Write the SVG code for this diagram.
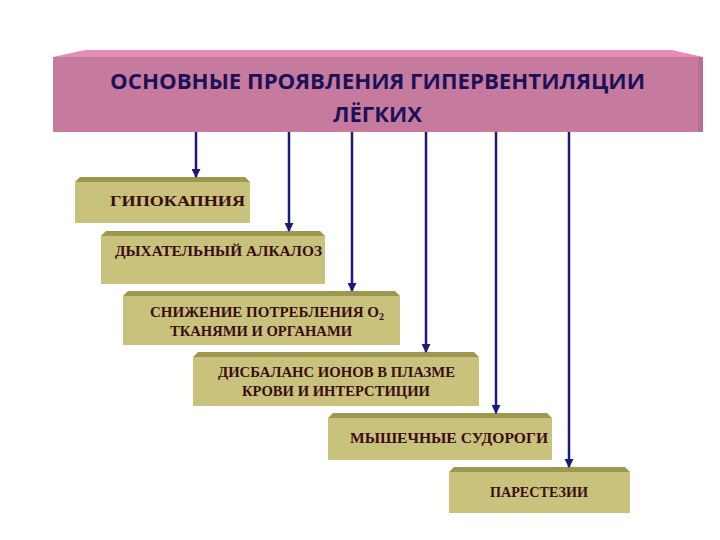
<svg xmlns="http://www.w3.org/2000/svg" width="720" height="540" viewBox="0 0 720 540">
<defs>
<style>
.box{fill:#C8C27C;}
.bev{fill:#9C984F;}
.lbl{font-family:"Liberation Serif","Times New Roman",serif;font-weight:bold;font-size:15px;fill:#3B0C12;}
.ttl{font-family:"Open Sans","Liberation Sans",sans-serif;font-weight:bold;font-size:22px;fill:#1B1157;}
.con{stroke:#1A1A7A;stroke-width:2.5;fill:none;marker-end:url(#ah);}
</style>
<marker id="ah" markerWidth="9" markerHeight="9" refX="8" refY="4.5" orient="auto" markerUnits="userSpaceOnUse">
<path d="M0,0 L9,4.5 L0,9 Z" fill="#1A1A7A"/>
</marker>
</defs>
<rect width="720" height="540" fill="#FFFFFF"/>
<g id="header">
<polygon points="53,57 85,50 672,50 703,57" fill="#E58DB6"/>
<rect x="53" y="57" width="650" height="75" fill="#C67A9E"/>
<rect x="698" y="57" width="5" height="75" fill="#B86E92"/>
<text class="ttl" x="110" y="89" textLength="535" lengthAdjust="spacingAndGlyphs">ОСНОВНЫЕ  ПРОЯВЛЕНИЯ  ГИПЕРВЕНТИЛЯЦИИ</text>
<text class="ttl" x="333" y="122" textLength="89" lengthAdjust="spacingAndGlyphs">ЛЁГКИХ</text>
</g>
<g id="n1">
<polygon points="75,182 80,177 245,177 250,182" class="bev"/>
<rect x="75" y="182" width="175" height="41" class="box"/>
<text class="lbl" x="110" y="206" textLength="135" lengthAdjust="spacingAndGlyphs">ГИПОКАПНИЯ</text>
</g>
<g id="n2">
<polygon points="101,236 106,231 320,231 325,236" class="bev"/>
<rect x="101" y="236" width="224" height="48" class="box"/>
<text class="lbl" x="115" y="256" textLength="207" lengthAdjust="spacingAndGlyphs">ДЫХАТЕЛЬНЫЙ АЛКАЛОЗ</text>
</g>
<g id="n3">
<polygon points="123,296 128,291 395,291 400,296" class="bev"/>
<rect x="123" y="296" width="277" height="49" class="box"/>
<text class="lbl" x="150" y="317">СНИЖЕНИЕ ПОТРЕБЛЕНИЯ  O<tspan font-size="10" dy="3">2</tspan></text>
<text class="lbl" x="170" y="336" textLength="182" lengthAdjust="spacingAndGlyphs">ТКАНЯМИ  И ОРГАНАМИ</text>
</g>
<g id="n4">
<polygon points="193,357 198,352 474,352 479,357" class="bev"/>
<rect x="193" y="357" width="286" height="49" class="box"/>
<text class="lbl" x="218" y="377" textLength="237" lengthAdjust="spacingAndGlyphs">ДИСБАЛАНС  ИОНОВ  В ПЛАЗМЕ</text>
<text class="lbl" x="242" y="396" textLength="188" lengthAdjust="spacingAndGlyphs">КРОВИ  И ИНТЕРСТИЦИИ</text>
</g>
<g id="n5">
<polygon points="328,418 333,413 547,413 552,418" class="bev"/>
<rect x="328" y="418" width="224" height="42" class="box"/>
<text class="lbl" x="350" y="443" textLength="198" lengthAdjust="spacingAndGlyphs">МЫШЕЧНЫЕ СУДОРОГИ</text>
</g>
<g id="n6">
<polygon points="449,472 454,467 625,467 630,472" class="bev"/>
<rect x="449" y="472" width="181" height="41" class="box"/>
<text class="lbl" x="490" y="497" textLength="98" lengthAdjust="spacingAndGlyphs">ПАРЕСТЕЗИИ</text>
</g>
<g id="connectors">
<line class="con" x1="196" y1="132" x2="196" y2="177"/>
<line class="con" x1="289" y1="132" x2="289" y2="231"/>
<line class="con" x1="352" y1="132" x2="352" y2="291"/>
<line class="con" x1="426" y1="132" x2="426" y2="352"/>
<line class="con" x1="496" y1="132" x2="496" y2="413"/>
<line class="con" x1="569" y1="132" x2="569" y2="467"/>
</g>
</svg>
